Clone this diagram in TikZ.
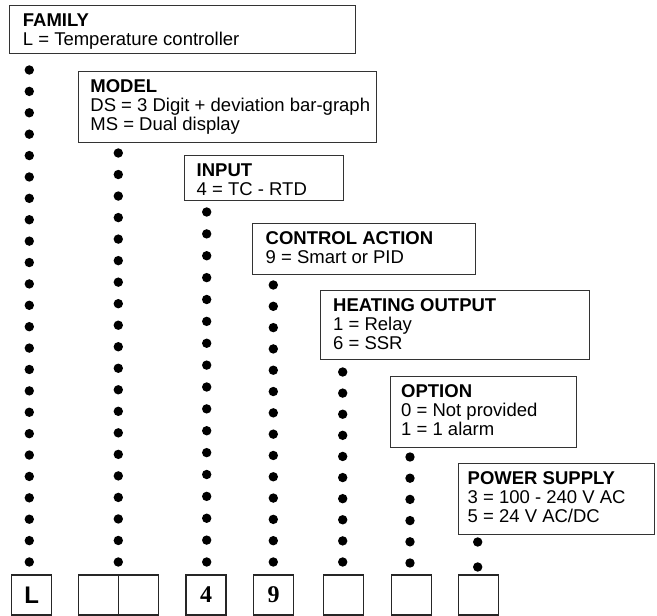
\documentclass[tikz,border=0pt]{standalone}
\usepackage{fontspec}
\setmainfont{Liberation Sans}
\newfontfamily\codeserif{Liberation Serif}
\begin{document}
\begin{tikzpicture}[x=1pt,y={(0pt,-1pt)},
  infobox/.style={draw=black!80, line width=0.9pt, inner sep=0pt, anchor=north west},
  infotext/.style={inner sep=0pt, anchor=north west, align=left, font=\fontsize{18.5}{18.8}\selectfont},
  codebox/.style={draw=black!85, line width=1.2pt, minimum width=40pt, minimum height=40pt, inner sep=0pt, font=\fontsize{24}{24}\selectfont\bfseries},
  dotmark/.style={fill=black}
]
\useasboundingbox (0,0) rectangle (657,616);

% description boxes
\node[infobox, minimum width=345.7pt, minimum height=48pt] (family) at (9.3,5) {};
\node[infotext] (familytxt) at ([xshift=13.4pt, yshift=-8.3pt]family.north west) {\textbf{FAMILY}\\L = Temperature controller};

\node[infobox, minimum width=298pt, minimum height=70.5pt] (model) at (77.7,71) {};
\node[infotext] (modeltxt) at ([xshift=12.5pt, yshift=-8.3pt]model.north west) {\textbf{MODEL}\\DS = 3 Digit + deviation bar-graph\\MS = Dual display};

\node[infobox, minimum width=159pt, minimum height=45pt] (input) at (184,155) {};
\node[infotext] (inputtxt) at ([xshift=12.5pt, yshift=-8.3pt]input.north west) {\textbf{INPUT}\\4 = TC - RTD};

\node[infobox, minimum width=223pt, minimum height=51pt] (action) at (252,223) {};
\node[infotext] (actiontxt) at ([xshift=13.5pt, yshift=-8.3pt]action.north west) {\textbf{CONTROL ACTION}\\9 = Smart or PID};

\node[infobox, minimum width=269pt, minimum height=69pt] (heating) at (320,290) {};
\node[infotext] (heatingtxt) at ([xshift=13pt, yshift=-8.3pt]heating.north west) {\textbf{HEATING OUTPUT}\\1 = Relay\\6 = SSR};

\node[infobox, minimum width=186pt, minimum height=71pt] (option) at (390,376) {};
\node[infotext] (optiontxt) at ([xshift=11pt, yshift=-8.3pt]option.north west) {\textbf{OPTION}\\0 = Not provided\\1 = 1 alarm};

\node[infobox, minimum width=196pt, minimum height=71pt] (power) at (458,463) {};
\node[infotext] (powertxt) at ([xshift=9.5pt, yshift=-8.3pt]power.north west) {\textbf{POWER SUPPLY}\\3 = 100 - 240 V AC\\5 = 24 V AC/DC};

% code boxes
\node[codebox] (cL) at (31.7,595) {L};
\node[codebox] (cM1) at (98.3,595) {};
\node[codebox] (cM2) at (138.3,595) {};
\node[codebox, font=\fontsize{24}{24}\selectfont\codeserif\bfseries] (cI) at (206,595) {4};
\node[codebox, font=\fontsize{24}{24}\selectfont\codeserif\bfseries] (cA) at (273.7,595) {9};
\node[codebox] (cH) at (343.3,595) {};
\node[codebox] (cO) at (411.3,595) {};
\node[codebox] (cP) at (478.3,595) {};

% dotted leaders: x, first y, last y, count
\foreach \x/\ya/\yb/\n in {29.3/70/562/24, 118.3/153/562/20, 206.7/212/562/17, 273.3/285/562/14, 342.7/372/562/10, 410/457/563/6, 477.7/542/567/2}{
  \pgfmathsetmacro{\stp}{(\yb-\ya)/(\n-1)}
  \foreach \k in {1,...,\n}{
    \fill[dotmark] (\x,{\ya+(\k-1)*\stp}) circle (4.7pt);
  }
}
\end{tikzpicture}
\end{document}
